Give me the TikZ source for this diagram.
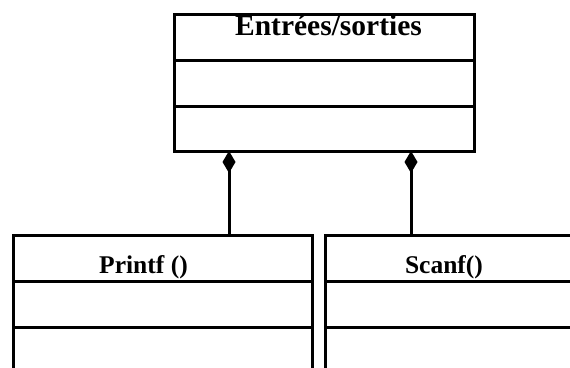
\documentclass[tikz,border=0pt]{standalone}
\usepackage{fontspec}
\setmainfont{Liberation Serif}
\usetikzlibrary{arrows.meta}
\begin{document}
\begin{tikzpicture}[x=1pt,y=-1pt,
  umlbox/.style={draw, line width=3pt, rectangle, inner sep=0pt, outer sep=0pt, anchor=north west},
  divider/.style={line width=3pt},
  titletext/.style={font=\bfseries\fontsize{29.5}{30}\selectfont, anchor=base, inner sep=0pt},
  classtext/.style={font=\bfseries\fontsize{25.5}{26}\selectfont, anchor=base, inner sep=0pt},
  comp/.style={line width=3pt, -{Diamond[length=22pt,width=13pt]}}]
\useasboundingbox (0,0) rectangle (570,367);
\clip (0,0) rectangle (570,367);
% top class
\node[umlbox, minimum width=300pt, minimum height=137pt] (io) at (174,14) {};
\draw[divider] ([yshift=-46pt]io.north west) -- ([yshift=-46pt]io.north east);
\draw[divider] ([yshift=-92pt]io.north west) -- ([yshift=-92pt]io.north east);
\node[titletext] (iot) at (328.5,35) {Entrées/sorties};
% bottom left class
\node[umlbox, minimum width=299pt, minimum height=160pt] (printf) at (13,235) {};
\draw[divider] ([yshift=-46pt]printf.north west) -- ([yshift=-46pt]printf.north east);
\draw[divider] ([yshift=-92pt]printf.north west) -- ([yshift=-92pt]printf.north east);
\node[classtext] (pt) at (143.5,273) {Printf ()};
% bottom right class
\node[umlbox, minimum width=300pt, minimum height=160pt] (scanf) at (325,235) {};
\draw[divider] ([yshift=-46pt]scanf.north west) -- ([yshift=-46pt]scanf.north east);
\draw[divider] ([yshift=-92pt]scanf.north west) -- ([yshift=-92pt]scanf.north east);
\node[classtext] (st) at (444,273) {Scanf()};
% composition connectors
\coordinate (d1) at (229,151);
\coordinate (d2) at (411,151);
\draw[comp] (printf.north -| d1) -- (d1);
\draw[comp] (scanf.north -| d2) -- (d2);
\end{tikzpicture}
\end{document}
